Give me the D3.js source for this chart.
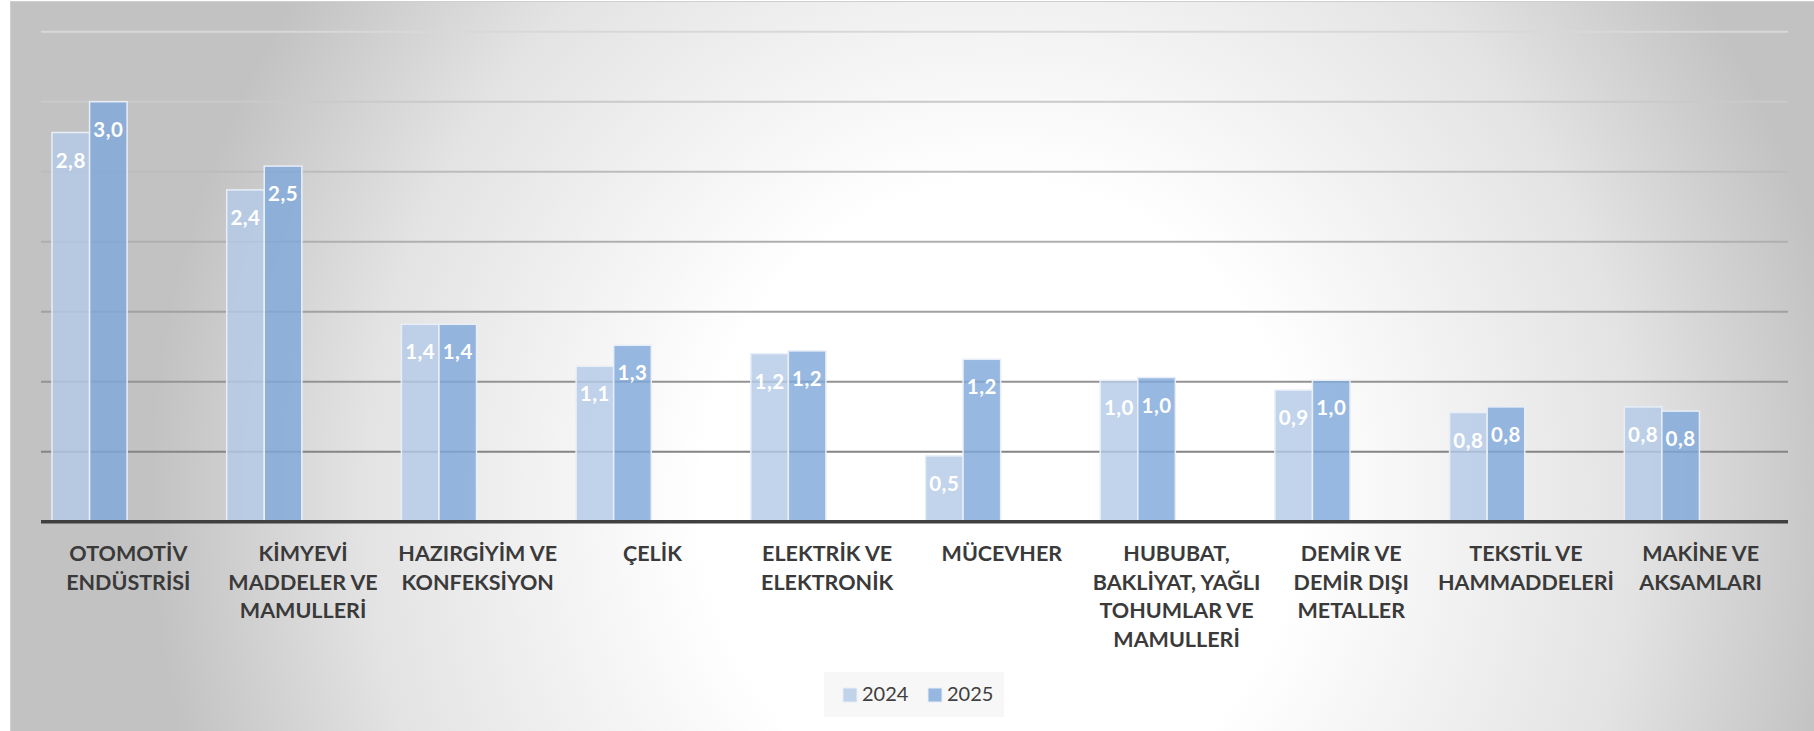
<!DOCTYPE html>
<html>
<head>
<meta charset="utf-8">
<script src="https://cdn.jsdelivr.net/npm/d3@7"></script>
<style>
body { margin: 0; background: #ffffff; }
svg { display: block; font-family: Lato, "Open Sans", sans-serif; }
</style>
</head>
<body>
<svg id="svg"></svg>
<script>
// data (values in the unit of the original chart)
var categories = [
    "OTOMOTİV\nENDÜSTRİSİ",
    "KİMYEVİ\nMADDELER VE\nMAMULLERİ",
    "HAZIRGİYİM VE\nKONFEKSİYON",
    "ÇELİK",
    "ELEKTRİK VE\nELEKTRONİK",
    "MÜCEVHER",
    "HUBUBAT,\nBAKLİYAT, YAĞLI\nTOHUMLAR VE\nMAMULLERİ",
    "DEMİR VE\nDEMİR DIŞI\nMETALLER",
    "TEKSTİL VE\nHAMMADDELERİ",
    "MAKİNE VE\nAKSAMLARI"
];
var years = ["2024", "2025"];
var values2024 = [2.78, 2.37, 1.41, 1.11, 1.20, 0.47, 1.01, 0.94, 0.78, 0.82];
var values2025 = [3.00, 2.54, 1.41, 1.26, 1.22, 1.16, 1.03, 1.01, 0.82, 0.79];
var gridTicks = [0.5, 1.0, 1.5, 2.0, 2.5, 3.0, 3.5];

//////////////////////////////////////////////////////////////////////////////

var width = 1814, height = 731;
var colors = {"2024": "#b4cae7", "2025": "#7fa7d9"};

var svg = d3.select("#svg").attr("width", width).attr("height", height);

// background with the whitish centre
var defs = svg.append("defs");
var grad = defs.append("radialGradient")
    .attr("id", "bg")
    .attr("gradientUnits", "userSpaceOnUse")
    .attr("cx", 0).attr("cy", 0).attr("r", 1)
    .attr("gradientTransform", "translate(1000,500) scale(850,900)");
grad.append("stop").attr("offset", 0).attr("stop-color", "#ffffff");
grad.append("stop").attr("offset", 0.35).attr("stop-color", "#ffffff");
grad.append("stop").attr("offset", 0.75).attr("stop-color", "#e3e3e3");
grad.append("stop").attr("offset", 1).attr("stop-color", "#c2c2c2");

svg.append("rect")
    .attr("x", 10.5).attr("y", 1.5)
    .attr("width", width - 10).attr("height", height)
    .attr("fill", "url(#bg)")
    .attr("stroke", "#cfcfcf");

// scales
var x0 = d3.scaleBand().domain(categories).range([41, 1788]);
var bw = x0.bandwidth();
var x1 = d3.scaleBand().domain(years).range([bw * 0.063, bw * 0.493]);
var y = d3.scaleLinear().domain([0, 3.5]).range([521.7, 31.7]);

// gridlines, darker towards the axis
var gridColor = d3.scaleLinear().domain([3.5, 0.5]).range(["#d8d8d8", "#858585"]);
svg.append("g").selectAll("line")
    .data(gridTicks)
    .enter()
    .append("line")
    .attr("x1", 41).attr("x2", 1788)
    .attr("y1", function(d) { return y(d); })
    .attr("y2", function(d) { return y(d); })
    .attr("stroke", function(d) { return gridColor(d); })
    .attr("stroke-width", 2);

var rows = categories.map(function(c, i) {
    return {cat: c, vals: [{year: "2024", v: values2024[i]}, {year: "2025", v: values2025[i]}]};
});

var fmt = d3.format(".1f");

var groups = svg.append("g").selectAll("g")
    .data(rows)
    .enter()
    .append("g")
    .attr("transform", function(d) { return "translate(" + x0(d.cat) + ",0)"; });

groups.selectAll("rect")
    .data(function(d) { return d.vals; })
    .enter()
    .append("rect")
    .attr("x", function(d) { return x1(d.year); })
    .attr("y", function(d) { return y(d.v); })
    .attr("width", x1.bandwidth())
    .attr("height", function(d) { return y(0) - y(d.v); })
    .attr("fill", function(d) { return colors[d.year]; })
    .attr("fill-opacity", 0.81)
    .attr("stroke", "#e8eef7")
    .attr("stroke-width", 1.5);

groups.selectAll("text")
    .data(function(d) { return d.vals; })
    .enter()
    .append("text")
    .attr("x", function(d) { return x1(d.year) + x1.bandwidth() / 2; })
    .attr("y", function(d) { return y(d.v) + 35; })
    .attr("text-anchor", "middle")
    .attr("fill", "#ffffff")
    .attr("font-weight", "bold")
    .attr("font-size", 20.5)
    .attr("letter-spacing", 0.5)
    .text(function(d) { return fmt(d.v).replace(".", ","); });

// x axis line
svg.append("line")
    .attr("x1", 41).attr("x2", 1788)
    .attr("y1", y(0)).attr("y2", y(0))
    .attr("stroke", "#404040")
    .attr("stroke-width", 3.5);

// category labels
var labels = svg.append("g").selectAll("text")
    .data(categories)
    .enter()
    .append("text")
    .attr("text-anchor", "middle")
    .attr("fill", "#3a3a3a")
    .attr("font-weight", "bold")
    .attr("font-size", 21.5);

labels.each(function(c) {
    var lines = c.split("\n");
    var t = d3.select(this);
    for (var i = 0; i < lines.length; ++i) {
        t.append("tspan")
            .attr("x", x0(c) + bw / 2)
            .attr("y", 561 + i * 28.7)
            .text(lines[i]);
    }
});

// legend
var legend = svg.append("g");
legend.append("rect")
    .attr("x", 824).attr("y", 672)
    .attr("width", 180).attr("height", 45)
    .attr("fill", "#f7f7f7");

var legendX = [843, 928];
var items = legend.selectAll("g")
    .data(years)
    .enter()
    .append("g");
items.append("rect")
    .attr("x", function(d, i) { return legendX[i]; })
    .attr("y", 688)
    .attr("width", 14).attr("height", 14)
    .attr("fill", function(d) { return colors[d]; })
    .attr("fill-opacity", 0.81)
    .attr("stroke", "#e8eef7");
items.append("text")
    .attr("x", function(d, i) { return legendX[i] + 19; })
    .attr("y", 701)
    .attr("fill", "#404040")
    .attr("font-size", 20)
    .text(function(d) { return d; });
</script>
</body>
</html>
